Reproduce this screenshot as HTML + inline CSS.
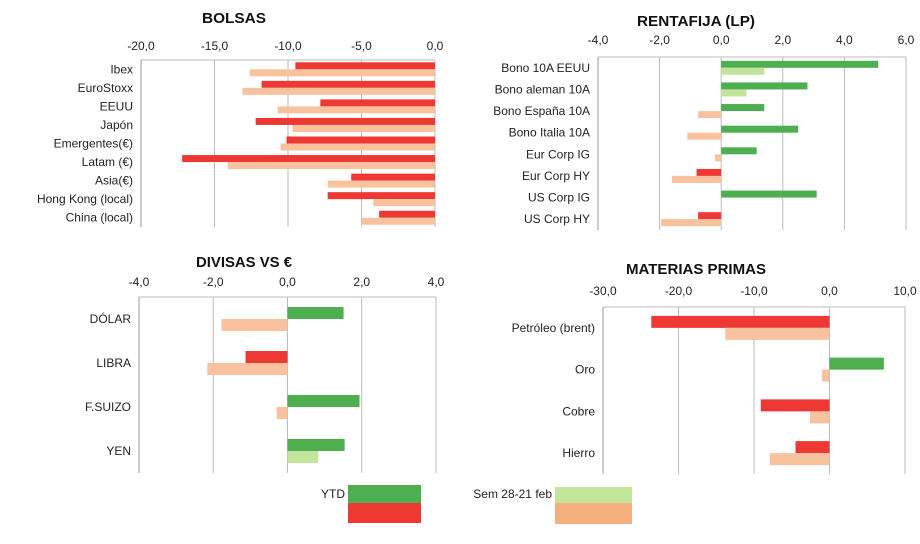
<!DOCTYPE html>
<html><head><meta charset="utf-8"><style>
body{margin:0;background:#fff}
svg{font-family:"Liberation Sans",sans-serif}
</style></head><body>
<svg id="c" width="920" height="539" viewBox="0 0 920 539"></svg>
<script>
const bolsasCats=["Ibex","EuroStoxx","EEUU","Japón","Emergentes(€)","Latam (€)","Asia(€)","Hong Kong (local)","China (local)"];
const bolsasYtd=[-9.5,-11.8,-7.8,-12.2,-10.1,-17.2,-5.7,-7.3,-3.8];
const bolsasSem=[-12.6,-13.1,-10.7,-9.7,-10.5,-14.1,-7.3,-4.2,-5.0];
const bolsasTicks=[-20,-15,-10,-5,0];
const rfCats=["Bono 10A EEUU","Bono aleman 10A","Bono España 10A","Bono Italia 10A","Eur Corp IG","Eur Corp HY","US Corp IG","US Corp HY"];
const rfYtd=[5.1,2.8,1.4,2.5,1.15,-0.8,3.1,-0.75];
const rfSem=[1.4,0.82,-0.75,-1.1,-0.2,-1.6,0,-1.95];
const rfTicks=[-4,-2,0,2,4,6];
const fxCats=["DÓLAR","LIBRA","F.SUIZO","YEN"];
const fxYtd=[1.51,-1.13,1.94,1.54];
const fxSem=[-1.78,-2.16,-0.29,0.83];
const fxTicks=[-4,-2,0,2,4];
const mpCats=["Petróleo (brent)","Oro","Cobre","Hierro"];
const mpYtd=[-23.6,7.2,-9.1,-4.5];
const mpSem=[-13.8,-1.0,-2.6,-7.9];
const mpTicks=[-30,-20,-10,0,10];

const NS="http://www.w3.org/2000/svg";
const svg=document.getElementById('c');
function mk(tag,attrs,name,parent){const e=document.createElementNS(NS,tag);for(const k in attrs)e.setAttribute(k,attrs[k]);


(parent||svg).appendChild(e);return e;}
const C={gp:'#4daf4f',rn:'#ee3833',lg:'#c3e59b',pe:'#f8c29e'};
function chart(o){
  const g=mk('g',{},o.name);
  const x=v=>o.x0+(v-o.min)/(o.max-o.min)*(o.x1-o.x0);
  const t=mk('text',{x:o.tx,y:o.ty,'text-anchor':'middle','font-size':15,'font-weight':'bold',fill:'#111',textLength:o.tl,lengthAdjust:'spacingAndGlyphs'},'chart-title',g);t.textContent=o.title;
  mk('line',{x1:o.x0,x2:o.x1,y1:o.y0,y2:o.y0,stroke:'#bbb'},'top-axis-line',g);
  o.ticks.forEach(v=>{
    mk('line',{x1:x(v),x2:x(v),y1:o.y0,y2:o.y1,stroke:'#bbb'},'gridline',g);
    const tt=mk('text',{x:x(v),y:o.ly,'text-anchor':'middle','font-size':12,fill:'#222'},'tick-label',g);tt.textContent=v.toFixed(1).replace('.',',');
  });
  const n=o.cats.length,rh=(o.y1-o.y0)/n;
  o.cats.forEach((c,i)=>{
    const cy=o.y0+rh*(i+0.5);
    const l=mk('text',{x:o.x0-8,y:cy+4,'text-anchor':'end','font-size':12,fill:'#222'},'category-label',g);l.textContent=c;
    const a=o.ytd[i],b=o.sem[i];
    if(a) mk('rect',{x:Math.min(x(0),x(a)),y:cy-o.bh,width:Math.abs(x(a)-x(0)),height:o.bh,fill:a>=0?C.gp:C.rn},'bar-ytd',g);
    if(b) mk('rect',{x:Math.min(x(0),x(b)),y:cy,width:Math.abs(x(b)-x(0)),height:o.bh,fill:b>=0?C.lg:C.pe},'bar-sem',g);
  });
  mk('line',{x1:o.x0,x2:o.x0,y1:o.y0,y2:o.y1,stroke:'#999'},'left-axis-line',g);
}
chart({name:'bolsas-chart',title:'BOLSAS',tx:234,ty:23,tl:64,cats:bolsasCats,ytd:bolsasYtd,sem:bolsasSem,ticks:bolsasTicks,min:-20,max:0,x0:141,x1:435,y0:60,y1:227,ly:50,bh:7});
chart({name:'rentafija-chart',title:'RENTAFIJA (LP)',tx:696,ty:26,tl:118,cats:rfCats,ytd:rfYtd,sem:rfSem,ticks:rfTicks,min:-4,max:6,x0:598,x1:906,y0:57,y1:230,ly:44,bh:7});
chart({name:'divisas-chart',title:'DIVISAS VS €',tx:244,ty:267,tl:96,cats:fxCats,ytd:fxYtd,sem:fxSem,ticks:fxTicks,min:-4,max:4,x0:139,x1:436,y0:297,y1:473,ly:286,bh:12});
chart({name:'materias-chart',title:'MATERIAS PRIMAS',tx:696,ty:274,tl:140,cats:mpCats,ytd:mpYtd,sem:mpSem,ticks:mpTicks,min:-30,max:10,x0:603,x1:905,y0:307,y1:474,ly:295,bh:12});
const lg=mk('g',{},'legend');
let t1=mk('text',{x:345,y:498,'text-anchor':'end','font-size':12,fill:'#222'},'legend-ytd-label',lg);t1.textContent='YTD';
mk('rect',{x:348,y:485,width:73,height:18,fill:C.gp},'legend-ytd-positive',lg);
mk('rect',{x:348,y:503,width:73,height:20,fill:C.rn},'legend-ytd-negative',lg);
let t2=mk('text',{x:552,y:498,'text-anchor':'end','font-size':12,fill:'#222'},'legend-sem-label',lg);t2.textContent='Sem 28-21 feb';
mk('rect',{x:555,y:487,width:77,height:16,fill:C.lg},'legend-sem-positive',lg);
mk('rect',{x:555,y:503,width:77,height:21,fill:'#f5ae7e'},'legend-sem-negative',lg);
</script>
</body></html>
